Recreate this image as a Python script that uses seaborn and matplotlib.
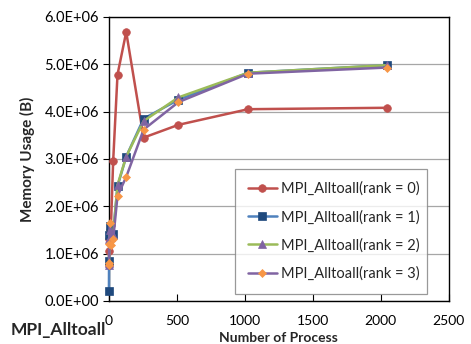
import numpy as np
import pandas as pd
import matplotlib
matplotlib.use("Agg")
import matplotlib.pyplot as plt
from matplotlib.ticker import FuncFormatter, MultipleLocator
import seaborn as sns

# ============ DATA ============
procs = [1, 2, 4, 8, 16, 32, 64, 128, 256, 512, 1024, 2048]
rank0 = [0.75e6, 1.05e6, 1.30e6, 1.50e6, 1.60e6, 2.95e6, 4.78e6, 5.68e6, 3.45e6, 3.72e6, 4.05e6, 4.08e6]
rank1 = [0.22e6, 0.85e6, 1.40e6, 1.58e6, 1.40e6, 1.42e6, 2.42e6, 3.05e6, 3.85e6, 4.25e6, 4.82e6, 4.98e6]
rank2 = [0.75e6, 0.80e6, 1.30e6, 1.50e6, 1.35e6, 1.40e6, 2.45e6, 3.05e6, 3.80e6, 4.30e6, 4.82e6, 4.98e6]
rank3 = [0.75e6, 0.80e6, 1.20e6, 1.65e6, 1.18e6, 1.30e6, 2.22e6, 2.62e6, 3.62e6, 4.20e6, 4.80e6, 4.93e6]

series = [
    ("MPI_Alltoall(rank = 0)", rank0, "#C0504D", "o", "#C0504D"),
    ("MPI_Alltoall(rank = 1)", rank1, "#4F81BD", "s", "#1F497D"),
    ("MPI_Alltoall(rank = 2)", rank2, "#9BBB59", "^", "#8064A2"),
    ("MPI_Alltoall(rank = 3)", rank3, "#8064A2", "D", "#F79646"),
]

# ============ FIGURE ============
sns.set_style("white")
plt.rcParams["font.family"] = ["Lato", "DejaVu Sans"]

fig = plt.figure(figsize=(4.71, 3.44), dpi=100)
ax = fig.add_axes([0.231, 0.125, 0.722, 0.826])

for name, vals, line_c, mk, mk_c in series:
    df = pd.DataFrame({"x": procs, "y": vals})
    ms = 4 if mk == "D" else 5.5
    sns.lineplot(data=df, x="x", y="y", ax=ax, color=line_c, linewidth=1.8,
                 marker=mk, markersize=ms, markerfacecolor=mk_c,
                 markeredgecolor=mk_c, markeredgewidth=0.5, label=name,
                 clip_on=False, zorder=3)

ax.set_xlim(0, 2500)
ax.set_ylim(0, 6e6)
ax.xaxis.set_major_locator(MultipleLocator(500))
ax.yaxis.set_major_locator(MultipleLocator(1e6))
ax.yaxis.set_major_formatter(FuncFormatter(lambda v, p: f"{v:.1E}"))
ax.grid(axis="y", color="#A6A6A6", linewidth=0.9)
ax.set_axisbelow(True)
for s in ax.spines.values():
    s.set_color("black")
    s.set_linewidth(1.0)
ax.tick_params(axis="y", direction="out", length=4, width=0.8,
               labelsize=10.5, colors="black", left=True, pad=3)
ax.tick_params(axis="x", direction="in", length=5, width=0.8,
               labelsize=10, colors="black", bottom=True, pad=10)

ax.set_xlabel("Number of Process", fontsize=10, fontweight="bold", labelpad=4)
ax.set_ylabel("Memory Usage (B)", fontsize=11, fontweight="bold", labelpad=7)

leg = ax.legend(loc="lower left", bbox_to_anchor=(0.37, 0.025, 0.565, 0.43),
                mode="expand", frameon=True, fancybox=False, fontsize=10.5,
                labelspacing=0.95, handlelength=2.0, handletextpad=0.3,
                borderpad=0.9, borderaxespad=0)
leg.get_frame().set_edgecolor("#808080")
leg.get_frame().set_linewidth(0.9)

fig.text(11 / 471, 1 - 330 / 344, "MPI_Alltoall", fontsize=12.5,
         fontweight="bold", va="center", ha="left")

fig.savefig("out.png", dpi=100)
